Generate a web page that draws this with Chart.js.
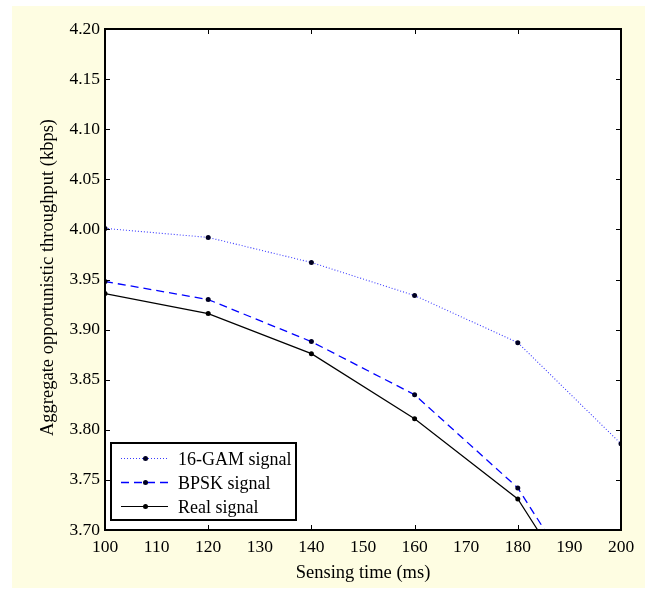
<!DOCTYPE html>
<html lang="en">
<head>
    <meta charset="UTF-8">
    <title>Aggregate opportunistic throughput</title>
    <script src="https://cdn.jsdelivr.net/npm/chart.js"></script>
    <style>
        html, body { margin: 0; padding: 0; background: #fff; }
        #wrap { width: 649px; height: 590px; position: relative; }
    </style>
</head>
<body>
    <div id="wrap">
        <canvas id="throughputChart" width="649" height="590"></canvas>
    </div>

    <script>
        // Data
        const sensingTime = [100, 120, 140, 160, 180, 200];
        const gamSignal = [4.001, 3.992, 3.967, 3.934, 3.887, 3.786];
        const bpskSignal = [3.948, 3.930, 3.888, 3.835, 3.742, 3.58];
        const realSignal = [3.936, 3.916, 3.876, 3.811, 3.731, 3.57];
        const seriesNames = ['16-GAM signal', 'BPSK signal', 'Real signal'];
        const xTickMarks = [120, 140, 160, 180];

        const serif = '"Liberation Serif", "DejaVu Serif", serif';

        function toPoints(values) {
            return sensingTime.map((t, i) => ({ x: t, y: values[i] }));
        }

        // Page background, frame, inward ticks, titles and legend box
        const figurePlugin = {
            id: 'figure',
            beforeDraw(chart) {
                const c = chart.ctx;
                const a = chart.chartArea;
                c.save();
                c.fillStyle = '#fefde2';
                c.fillRect(12, 6, 633, 582);
                c.fillStyle = '#ffffff';
                c.fillRect(a.left, a.top, a.right - a.left, a.bottom - a.top);
                c.restore();
            },
            afterDraw(chart) {
                const c = chart.ctx;
                const a = chart.chartArea;
                const xs = chart.scales.x;
                const ys = chart.scales.y;
                c.save();

                // tick marks pointing in
                c.strokeStyle = '#000';
                c.lineWidth = 1;
                c.beginPath();
                xTickMarks.forEach(v => {
                    const px = Math.round(xs.getPixelForValue(v)) + 0.5;
                    c.moveTo(px, a.bottom); c.lineTo(px, a.bottom - 5);
                    c.moveTo(px, a.top); c.lineTo(px, a.top + 5);
                });
                ys.ticks.forEach(t => {
                    const py = Math.round(ys.getPixelForValue(t.value)) + 0.5;
                    c.moveTo(a.left, py); c.lineTo(a.left + 5, py);
                    c.moveTo(a.right, py); c.lineTo(a.right - 5, py);
                });
                c.stroke();

                // plot frame
                c.lineWidth = 2;
                c.strokeRect(a.left, a.top, a.right - a.left, a.bottom - a.top);

                // axis titles
                c.fillStyle = '#000';
                c.font = '18.5px ' + serif;
                c.textAlign = 'center';
                c.textBaseline = 'middle';
                c.fillText('Sensing time (ms)', (a.left + a.right) / 2, 573);
                c.translate(48, (a.top + a.bottom) / 2 - 2);
                c.rotate(-Math.PI / 2);
                c.fillText('Aggregate opportunistic throughput (kbps)', 0, 0);
                c.setTransform(1, 0, 0, 1, 0, 0);

                // legend
                const box = { x: 111, y: 443, w: 185, h: 77 };
                c.fillStyle = '#fff';
                c.fillRect(box.x, box.y, box.w, box.h);
                c.lineWidth = 2;
                c.strokeStyle = '#000';
                c.strokeRect(box.x, box.y, box.w, box.h);
                const rows = [458, 482, 506];
                chart.data.datasets.forEach((ds, i) => {
                    const y = rows[i] + 0.5;
                    c.save();
                    c.strokeStyle = ds.borderColor;
                    c.lineWidth = ds.borderWidth;
                    c.setLineDash(ds.borderDash || []);
                    c.beginPath();
                    c.moveTo(121, y); c.lineTo(168, y);
                    c.stroke();
                    c.setLineDash([]);
                    c.fillStyle = ds.pointBackgroundColor;
                    c.beginPath();
                    c.arc(145.5, y, 2.5, 0, Math.PI * 2);
                    c.fill();
                    c.restore();
                    c.fillStyle = '#000';
                    c.font = '18px ' + serif;
                    c.textAlign = 'left';
                    c.textBaseline = 'middle';
                    c.fillText(ds.label, 178, rows[i] + 2);
                });
                c.restore();
            }
        };

        const ctx = document.getElementById('throughputChart').getContext('2d');
        const throughputChart = new Chart(ctx, {
            type: 'line',
            data: {
                datasets: [
                    {
                        label: seriesNames[0],
                        data: toPoints(gamSignal),
                        borderColor: '#3a3aff',
                        borderWidth: 1.1,
                        borderDash: [1, 2],
                        pointRadius: 2.5,
                        pointBackgroundColor: '#000022',
                        pointBorderWidth: 0
                    },
                    {
                        label: seriesNames[1],
                        data: toPoints(bpskSignal),
                        borderColor: '#0000ff',
                        borderWidth: 1.3,
                        borderDash: [8, 5],
                        pointRadius: 2.5,
                        pointBackgroundColor: '#000022',
                        pointBorderWidth: 0
                    },
                    {
                        label: seriesNames[2],
                        data: toPoints(realSignal),
                        borderColor: '#000000',
                        borderWidth: 1.2,
                        pointRadius: 2.5,
                        pointBackgroundColor: '#000000',
                        pointBorderWidth: 0
                    }
                ]
            },
            options: {
                responsive: false,
                animation: false,
                layout: { padding: { top: 29, right: 28, left: 0, bottom: 0 } },
                plugins: {
                    legend: { display: false },
                    tooltip: { enabled: false }
                },
                elements: { line: { tension: 0 } },
                scales: {
                    x: {
                        type: 'linear',
                        min: 100,
                        max: 200,
                        afterFit: s => { s.height = 60; },
                        grid: { display: false, drawTicks: false },
                        border: { display: false },
                        ticks: {
                            stepSize: 10,
                            padding: 7,
                            color: '#000',
                            maxRotation: 0,
                            font: { family: serif, size: 17.5 }
                        }
                    },
                    y: {
                        min: 3.70,
                        max: 4.20,
                        afterFit: s => { s.width = 105; },
                        grid: { display: false, drawTicks: false },
                        border: { display: false },
                        ticks: {
                            stepSize: 0.05,
                            padding: 5,
                            color: '#000',
                            font: { family: serif, size: 17.5 },
                            callback: v => v.toFixed(2)
                        }
                    }
                }
            },
            plugins: [figurePlugin]
        });
    </script>
</body>
</html>
